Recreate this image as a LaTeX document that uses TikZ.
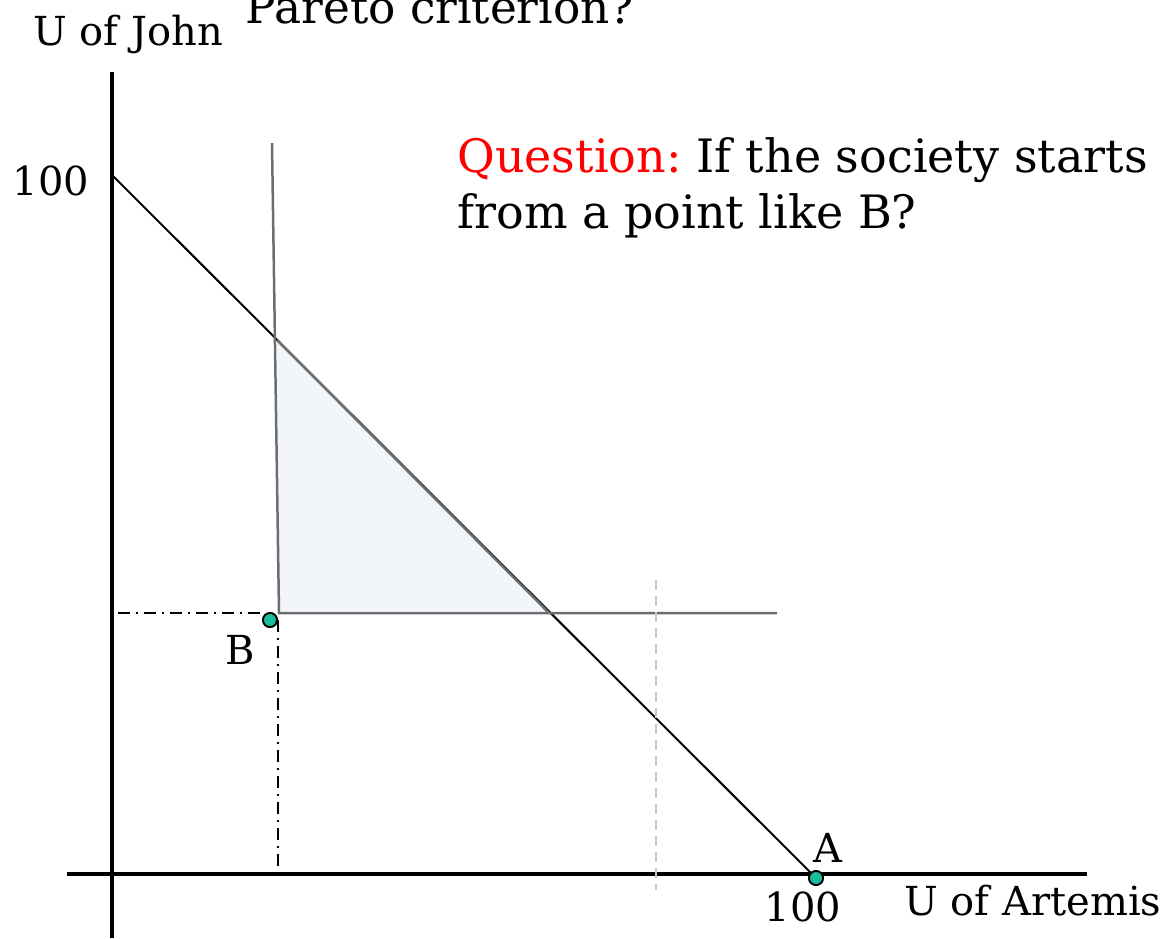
\documentclass[tikz,border=0pt]{standalone}
\usepackage{fontspec}
\setmainfont{DejaVu Serif}
\usepackage{xcolor}
\usetikzlibrary{positioning}

\definecolor{dotgreen}{HTML}{1ABC9C}
\definecolor{regionfill}{HTML}{F2F6FA}
\definecolor{boundgray}{HTML}{6E6E6E}
\definecolor{guidegray}{HTML}{C8C8C8}

\begin{document}
\frenchspacing
\begin{tikzpicture}[
    x=0.5pt, y=-0.5pt,
    axis/.style={line width=2pt},
    budget/.style={line width=1pt, black},
    bound/.style={line width=1.25pt, boundgray},
    guide/.style={line width=0.8pt, dash pattern=on 6pt off 3pt on 1pt off 3pt},
    marker/.style={line width=1pt, guidegray, dash pattern=on 5pt off 3pt},
    dot/.style={circle, draw=black, fill=dotgreen, inner sep=0pt, minimum size=7pt, line width=0.9pt},
    lbl/.style={font=\fontsize{20}{24}\selectfont, inner sep=0pt, anchor=base}
]
\useasboundingbox (0,0) rectangle (1176,938);

% axes
\coordinate (yaxtop) at (112,72);
\coordinate (yaxbot) at (112,938);
\coordinate (xaxleft) at (67,874);
\coordinate (xaxright) at (1087,874);
\draw[axis] (yaxbot) -- (yaxtop);
\draw[axis] (xaxleft) -- (xaxright);

% frontier and region
\coordinate (front) at (112,175);
\coordinate (corner) at (279,613);
\coordinate (top) at (272,143);
\coordinate (cross) at (277,340);
\coordinate (meet) at (549,613);
\coordinate (hend) at (777,613);
\fill[regionfill] (cross) -- (corner) -- (meet) -- cycle;

\node[dot] (A) at (816,878) {};
\node[dot] (B) at (270,620) {};

\draw[budget] (front) -- (A.center);
\draw[bound] (top) -- (corner) -- (hend);
\draw[bound] (cross) -- (meet);

% guides
\coordinate (gleft) at (118,613);
\coordinate (gbot) at (278,870);
\coordinate (mtop) at (656,580);
\coordinate (mbot) at (656,890);
\draw[guide] (gleft) -- (B.west |- gleft) -- (B);
\draw[guide] (B.east) -- (B.east |- gbot);
\draw[marker] (mtop) -- (mbot);
\node[dot] at (B) {};
\node[dot] at (A) {};

% labels
\node[lbl] (ylabel) at (128,45) {U of John};
\node[lbl, font=\fontsize{22.7}{26}\selectfont] (title) at (440,23) {Pareto criterion?};
\node[lbl] (ytick) at (51,195) {100};
\node[lbl] (xtick) at (803,921) {100};
\node[lbl] (xlabel) at (1033,915) {U of Artemis};
\node[lbl] (Alabel) at (828,862) {A};
\node[lbl] (Blabel) at (240,664) {B};
\node[font=\fontsize{23}{28}\selectfont, align=left, anchor=north west, inner sep=0pt] (question) at (457,137)
    {\textcolor{red}{Question:} If the society starts\\from a point like B?};
\end{tikzpicture}
\end{document}
